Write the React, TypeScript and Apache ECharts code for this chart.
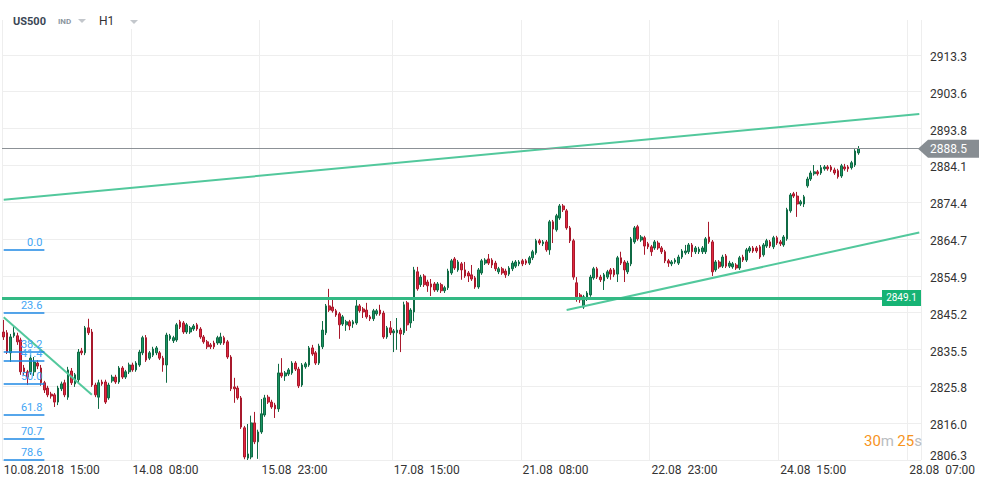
import React, { useEffect, useRef } from "react";
import * as echarts from "echarts";

// ---------- header texts ----------
const symbolName = "US500";
const instrumentType = "IND";
const timeframe = "H1";
const countdownMin = "30";
const countdownSec = "25";

// ---------- hourly candles: [open, close, low, high] ----------
const candles: number[][] = [
  [2840.1, 2838.8, 2838.0, 2843.3], [2839.9, 2834.8, 2834.3, 2840.6], [2834.6, 2838.8, 2832.2, 2839.6], [2839.1, 2839.9, 2838.6, 2841.4],
  [2839.1, 2837.5, 2836.7, 2839.9], [2838.0, 2829.6, 2828.8, 2838.6], [2830.6, 2829.6, 2828.8, 2831.4], [2829.6, 2828.2, 2826.1, 2830.1],
  [2829.6, 2833.2, 2828.8, 2834.0], [2829.6, 2832.2, 2828.5, 2833.5], [2831.9, 2831.1, 2830.3, 2832.7], [2830.6, 2826.7, 2825.9, 2831.4],
  [2826.7, 2824.8, 2824.0, 2827.2], [2825.3, 2823.5, 2822.9, 2825.9], [2823.7, 2823.2, 2822.5, 2824.3], [2823.5, 2821.6, 2820.3, 2824.0],
  [2821.6, 2825.3, 2820.8, 2825.9], [2825.1, 2826.4, 2824.5, 2827.0], [2826.7, 2823.5, 2822.9, 2827.5], [2822.9, 2830.1, 2822.2, 2830.9],
  [2829.8, 2826.7, 2826.1, 2830.6], [2826.4, 2828.8, 2825.6, 2829.3], [2827.5, 2834.8, 2826.9, 2835.6], [2835.1, 2834.6, 2834.0, 2835.9],
  [2834.6, 2841.2, 2834.0, 2841.7], [2841.2, 2839.9, 2839.3, 2843.6], [2840.1, 2826.1, 2825.6, 2840.9], [2826.1, 2823.5, 2822.9, 2826.7],
  [2822.9, 2826.7, 2819.8, 2827.5], [2826.9, 2826.4, 2825.9, 2827.5], [2826.9, 2821.6, 2821.1, 2827.5], [2822.7, 2826.1, 2822.2, 2826.7],
  [2827.2, 2828.2, 2826.7, 2828.8], [2828.2, 2826.9, 2826.4, 2828.8], [2826.9, 2830.6, 2826.4, 2831.1], [2830.6, 2828.2, 2827.7, 2831.1],
  [2828.2, 2829.6, 2827.7, 2830.1], [2829.6, 2831.4, 2829.0, 2832.0], [2831.4, 2830.1, 2829.6, 2832.0], [2830.1, 2831.9, 2829.6, 2832.4],
  [2831.4, 2834.8, 2830.9, 2835.4], [2834.6, 2838.6, 2834.0, 2839.1], [2838.6, 2832.7, 2832.2, 2839.3], [2833.2, 2834.6, 2832.7, 2835.1],
  [2834.0, 2835.6, 2833.5, 2836.2], [2834.6, 2835.9, 2834.0, 2836.4], [2834.6, 2833.2, 2832.7, 2835.1], [2833.2, 2831.4, 2829.6, 2833.8],
  [2831.4, 2839.3, 2826.7, 2839.9], [2838.3, 2839.1, 2837.8, 2839.6], [2837.8, 2838.6, 2837.2, 2839.1], [2838.0, 2842.0, 2837.5, 2842.5],
  [2842.8, 2841.4, 2840.9, 2843.3], [2842.5, 2840.1, 2839.6, 2843.0], [2840.1, 2842.0, 2839.6, 2842.5], [2840.1, 2841.2, 2839.6, 2841.7],
  [2840.9, 2841.7, 2840.4, 2842.2], [2842.0, 2840.9, 2840.4, 2842.5], [2840.9, 2838.8, 2838.3, 2841.4], [2838.8, 2837.5, 2837.0, 2839.3],
  [2837.5, 2836.2, 2835.6, 2838.0], [2836.7, 2836.2, 2835.6, 2837.2], [2837.2, 2836.2, 2835.6, 2837.8], [2837.2, 2838.6, 2836.7, 2839.1],
  [2837.2, 2838.8, 2836.7, 2839.9], [2838.6, 2837.2, 2836.7, 2839.1], [2837.5, 2833.5, 2833.0, 2838.0], [2833.5, 2825.1, 2824.5, 2834.0],
  [2825.6, 2825.1, 2821.4, 2828.0], [2825.3, 2822.7, 2822.2, 2825.9], [2822.7, 2815.0, 2814.5, 2823.2], [2814.8, 2807.1, 2806.5, 2815.3],
  [2806.8, 2807.9, 2806.3, 2815.8], [2807.1, 2816.1, 2806.5, 2818.0], [2816.1, 2811.1, 2810.5, 2819.0], [2811.1, 2813.7, 2806.6, 2814.3],
  [2813.7, 2818.5, 2813.2, 2822.4], [2818.2, 2822.7, 2817.7, 2823.5], [2822.9, 2821.6, 2821.1, 2823.5], [2821.6, 2820.3, 2819.8, 2822.2],
  [2820.8, 2819.8, 2817.4, 2821.4], [2819.8, 2829.3, 2819.0, 2831.7], [2829.3, 2828.5, 2828.0, 2833.2], [2828.5, 2829.3, 2827.2, 2829.8],
  [2829.0, 2830.1, 2828.5, 2830.6], [2829.3, 2831.9, 2828.8, 2832.4], [2831.9, 2830.3, 2829.8, 2832.4], [2830.3, 2825.9, 2825.3, 2830.9],
  [2826.1, 2831.4, 2825.6, 2831.9], [2830.9, 2831.7, 2830.4, 2832.2], [2831.4, 2835.9, 2830.9, 2836.4], [2835.9, 2834.3, 2833.8, 2836.7],
  [2834.6, 2831.9, 2831.4, 2835.1], [2831.9, 2836.4, 2831.4, 2837.0], [2836.2, 2840.6, 2835.6, 2843.0], [2839.9, 2847.0, 2839.3, 2847.5],
  [2847.0, 2845.9, 2845.4, 2851.5], [2846.7, 2845.7, 2845.2, 2849.1], [2845.7, 2844.6, 2844.1, 2846.2], [2844.9, 2842.0, 2838.3, 2845.4],
  [2842.2, 2844.1, 2841.7, 2844.6], [2842.0, 2842.8, 2840.4, 2843.3], [2842.8, 2841.7, 2840.6, 2843.3], [2842.2, 2842.8, 2841.2, 2843.3],
  [2842.5, 2847.0, 2842.0, 2848.6], [2847.0, 2845.7, 2845.2, 2847.5], [2846.2, 2845.4, 2843.8, 2846.7], [2845.9, 2844.1, 2843.6, 2847.8],
  [2844.1, 2843.6, 2843.0, 2844.6], [2843.6, 2845.7, 2843.0, 2846.2], [2844.9, 2845.7, 2844.4, 2846.2], [2845.9, 2844.9, 2844.4, 2847.3],
  [2845.1, 2838.8, 2838.3, 2845.7], [2838.8, 2841.2, 2838.3, 2841.7], [2841.2, 2839.9, 2839.3, 2843.0], [2839.9, 2840.4, 2834.8, 2840.9],
  [2839.9, 2840.6, 2835.4, 2843.8], [2840.6, 2839.6, 2834.8, 2841.2], [2839.9, 2847.3, 2839.3, 2848.1], [2847.8, 2842.0, 2840.4, 2848.3],
  [2842.5, 2845.9, 2841.2, 2846.4], [2845.4, 2856.5, 2843.0, 2857.3], [2856.0, 2851.5, 2851.0, 2857.3], [2852.6, 2854.6, 2852.0, 2855.2],
  [2854.9, 2852.6, 2852.0, 2855.4], [2853.3, 2852.3, 2850.7, 2853.9], [2852.8, 2852.0, 2849.6, 2854.1], [2852.8, 2851.2, 2850.7, 2853.3],
  [2851.2, 2852.8, 2850.7, 2853.3], [2852.6, 2851.0, 2850.4, 2853.1], [2851.0, 2851.8, 2850.4, 2852.3], [2851.8, 2856.2, 2851.2, 2856.8],
  [2855.7, 2858.9, 2855.2, 2859.4], [2859.4, 2857.0, 2856.5, 2859.9], [2856.5, 2858.6, 2856.0, 2859.1], [2858.1, 2856.5, 2853.9, 2858.6],
  [2856.5, 2854.9, 2854.4, 2858.6], [2855.7, 2854.9, 2853.3, 2856.2], [2855.2, 2854.1, 2853.6, 2857.8], [2854.4, 2852.0, 2851.5, 2854.9],
  [2852.0, 2856.5, 2851.5, 2857.0], [2855.7, 2858.9, 2855.2, 2859.4], [2858.3, 2859.1, 2857.8, 2859.6], [2859.4, 2858.3, 2857.8, 2860.7],
  [2859.1, 2857.8, 2857.0, 2859.6], [2858.3, 2856.8, 2856.2, 2858.9], [2856.0, 2856.8, 2855.4, 2857.3], [2856.8, 2855.7, 2855.2, 2857.3],
  [2856.2, 2855.2, 2854.4, 2856.8], [2855.4, 2857.0, 2854.9, 2857.5], [2856.8, 2858.3, 2856.2, 2858.9], [2857.5, 2858.6, 2857.0, 2859.1],
  [2858.1, 2858.6, 2857.5, 2859.1], [2858.9, 2858.1, 2857.5, 2859.4], [2858.9, 2858.3, 2857.8, 2859.4], [2858.3, 2859.7, 2857.8, 2860.2],
  [2859.7, 2861.3, 2859.1, 2861.8], [2861.0, 2864.2, 2860.5, 2864.7], [2864.2, 2863.6, 2863.1, 2864.7], [2863.4, 2863.9, 2862.8, 2864.4],
  [2863.9, 2861.8, 2861.3, 2864.4], [2861.8, 2869.2, 2860.5, 2869.7], [2869.2, 2867.3, 2863.6, 2869.7], [2867.1, 2870.8, 2866.6, 2871.3],
  [2870.2, 2873.4, 2869.7, 2873.9], [2873.4, 2872.4, 2871.8, 2873.9], [2872.1, 2867.6, 2867.1, 2872.6], [2867.6, 2864.2, 2863.6, 2868.1],
  [2864.2, 2854.6, 2853.9, 2864.7], [2853.1, 2849.4, 2848.1, 2854.6], [2849.9, 2848.6, 2847.8, 2850.4], [2846.7, 2849.4, 2846.2, 2849.9],
  [2848.8, 2850.4, 2848.3, 2850.9], [2849.9, 2854.6, 2849.4, 2855.2], [2854.4, 2856.8, 2853.9, 2857.3], [2856.8, 2854.6, 2854.1, 2857.3],
  [2854.6, 2853.9, 2853.3, 2855.2], [2853.6, 2855.2, 2851.2, 2855.7], [2854.6, 2856.0, 2854.1, 2856.5], [2856.5, 2855.4, 2853.9, 2857.0],
  [2856.5, 2855.2, 2854.6, 2857.0], [2855.4, 2859.7, 2853.3, 2860.2], [2859.7, 2858.3, 2857.8, 2861.3], [2858.6, 2856.5, 2853.3, 2859.1],
  [2856.0, 2858.3, 2855.4, 2858.9], [2858.1, 2864.7, 2857.5, 2865.2], [2863.9, 2867.6, 2863.4, 2868.1], [2867.9, 2864.7, 2864.2, 2868.4],
  [2864.4, 2865.2, 2863.9, 2865.7], [2865.0, 2862.8, 2860.5, 2865.5], [2863.4, 2862.6, 2862.0, 2863.9], [2862.6, 2861.3, 2860.2, 2863.1],
  [2862.3, 2863.9, 2861.8, 2864.4], [2863.6, 2862.3, 2861.8, 2864.2], [2862.3, 2861.3, 2860.7, 2862.8], [2861.3, 2858.9, 2858.3, 2861.8],
  [2858.9, 2858.3, 2857.3, 2859.4], [2858.1, 2858.6, 2857.5, 2859.1], [2858.6, 2859.1, 2858.1, 2859.6], [2858.3, 2859.9, 2857.8, 2860.5],
  [2859.9, 2861.5, 2859.4, 2862.0], [2861.0, 2861.5, 2860.5, 2863.1], [2861.3, 2863.1, 2860.7, 2863.6], [2863.1, 2861.3, 2859.9, 2863.6],
  [2861.3, 2862.3, 2860.7, 2862.8], [2861.3, 2862.0, 2860.7, 2862.6], [2861.3, 2862.3, 2860.7, 2862.8], [2861.3, 2864.7, 2860.7, 2865.2],
  [2865.2, 2863.9, 2863.4, 2869.2], [2863.9, 2856.0, 2854.9, 2864.4], [2856.5, 2858.6, 2856.0, 2859.1], [2858.6, 2857.3, 2856.8, 2859.1],
  [2857.5, 2859.9, 2857.0, 2860.5], [2860.2, 2857.5, 2857.0, 2860.7], [2857.5, 2858.3, 2857.0, 2858.9], [2857.3, 2858.1, 2856.8, 2858.6],
  [2857.8, 2857.0, 2856.5, 2858.3], [2857.0, 2859.7, 2856.5, 2860.2], [2859.9, 2859.1, 2858.6, 2860.5], [2859.1, 2861.8, 2858.6, 2862.3],
  [2861.5, 2862.3, 2861.0, 2862.8], [2862.3, 2861.5, 2861.0, 2862.8], [2862.3, 2861.5, 2861.0, 2862.8], [2862.6, 2859.9, 2859.4, 2863.1],
  [2860.5, 2863.1, 2860.0, 2863.6], [2862.8, 2864.2, 2862.3, 2864.7], [2863.9, 2862.8, 2862.3, 2864.4], [2862.6, 2865.0, 2862.0, 2865.5],
  [2865.0, 2863.6, 2863.1, 2865.5], [2863.9, 2863.4, 2862.8, 2864.4], [2863.1, 2865.2, 2862.6, 2865.7], [2864.7, 2872.4, 2864.2, 2872.9],
  [2872.1, 2876.3, 2871.6, 2876.8], [2876.6, 2876.0, 2875.5, 2877.1], [2876.0, 2873.9, 2870.5, 2877.1], [2873.9, 2874.5, 2873.4, 2875.0],
  [2873.9, 2875.8, 2873.1, 2876.3], [2878.7, 2880.5, 2878.2, 2881.1], [2880.5, 2882.1, 2880.0, 2882.7], [2881.9, 2882.4, 2881.4, 2884.2],
  [2882.4, 2881.9, 2881.4, 2882.9], [2882.1, 2883.5, 2881.6, 2884.2], [2883.2, 2883.7, 2882.7, 2884.2], [2883.7, 2883.2, 2882.7, 2884.2],
  [2883.7, 2882.9, 2882.4, 2884.2], [2882.9, 2882.1, 2881.6, 2883.5], [2882.7, 2881.1, 2880.6, 2883.2], [2881.3, 2884.0, 2880.8, 2884.5],
  [2883.7, 2883.2, 2882.7, 2884.5], [2883.7, 2883.2, 2882.4, 2884.2], [2883.5, 2884.8, 2883.0, 2885.3], [2884.2, 2887.9, 2883.7, 2888.4],
  [2887.4, 2888.5, 2886.9, 2889.2],
];

// ---------- x axis ----------
const totalSlots = 271; // hourly slots incl. empty future space
const xTickIndex = [0, 38, 76, 115, 153, 191, 229, 267];
const xTickLabels = [
  "10.08.2018 \u00a015:00",
  "14.08 \u00a008:00",
  "15.08 \u00a023:00",
  "17.08 \u00a015:00",
  "21.08 \u00a008:00",
  "22.08 \u00a023:00",
  "24.08 \u00a015:00",
  "28.08 \u00a007:00",
];

// ---------- y axis ----------
const yMin = 2806.3;
const yStep = 9.727272727;
const yMax = 2922.5;

// ---------- drawings ----------
const upperTrend = [[0, 2875.0], [270, 2897.7]];
const lowerTrend = [[166, 2845.9], [270, 2866.4]];
const shortTrend = [[0, 2844.0], [26, 2823.5]];
const supportLevel = 2849.1;
const lastPrice = 2888.5;
const fibStartValue = 2861.8;
const fibEndValue = 2791.2;
const fibLevels = [0, 23.6, 38.2, 41.4, 50, 61.8, 70.7, 78.6];
const fibLabels = ["0.0", "23.6", "38.2", "41.4", "50.0", "61.8", "70.7", "78.6"];
const fibFromIndex = 0;
const fibToIndex = 12;

const FONT = "Roboto, 'Noto Sans', Arial, sans-serif";

export default function App() {
  const ref = useRef<HTMLDivElement>(null);

  useEffect(() => {
    if (!ref.current) return;
    const chart = echarts.init(ref.current, undefined, { renderer: "svg" });
    const categories = Array.from({ length: totalSlots }, (_, i) => String(i));
    const isTick = (i: number) => xTickIndex.indexOf(i) >= 0;

    const trendStyle = { color: "#52c89c", width: 2 };

    const fibMarks = fibLevels.map((lvl, k) => {
      const v = Math.max(yMin, fibStartValue - (lvl / 100) * (fibStartValue - fibEndValue));
      return [
        {
          coord: [fibFromIndex, v],
          lineStyle: { color: "#1e88e5", width: 1.5, type: "solid" },
          label: {
            show: true,
            position: "insideEndTop",
            formatter: fibLabels[k],
            color: "#42a5f5",
            fontSize: 11,
            fontFamily: FONT,
            distance: 2,
          },
        },
        { coord: [fibToIndex, v] },
      ];
    });

    const option: any = {
      animation: false,
      textStyle: { fontFamily: FONT },
      grid: { left: 2, right: 69, top: 20, bottom: 25 },
      xAxis: {
        type: "category",
        data: categories,
        boundaryGap: true,
        axisLine: { show: false },
        axisTick: { show: false },
        axisLabel: {
          interval: (i: number) => isTick(i),
          formatter: (_v: string, i: number) => {
            const k = xTickIndex.indexOf(i);
            return k >= 0 ? xTickLabels[k] : "";
          },
          align: "left",
          color: "#333",
          fontSize: 12,
          margin: 4,
          fontFamily: FONT,
        },
        splitLine: {
          show: true,
          interval: (i: number) => isTick(i),
          lineStyle: { color: "#eeeeee", width: 1 },
        },
      },
      yAxis: {
        type: "value",
        position: "right",
        min: yMin,
        max: yMax,
        interval: yStep,
        axisLine: { show: false },
        axisTick: { show: false },
        axisLabel: {
          showMaxLabel: false,
          formatter: (v: number) =>
            Math.abs(v - yMin) < 0.01 ? `{lo|${v.toFixed(1)}}` : `{n|${v.toFixed(1)}}`,
          color: "#333",
          fontSize: 12,
          margin: 9,
          fontFamily: FONT,
          rich: {
            n: { color: "#333", fontSize: 12, fontFamily: FONT, padding: [4, 0, 0, 0] },
            lo: { color: "#333", fontSize: 12, fontFamily: FONT, padding: [0, 0, 8, 0] },
          },
        },
        splitLine: { show: true, showMaxLine: false, lineStyle: { color: "#eeeeee", width: 1 } },
      },
      series: [
        {
          type: "candlestick",
          data: candles,
          barWidth: 2.2,
          itemStyle: {
            color: "#1a9463",
            color0: "#e0283f",
            borderColor: "#0f6a44",
            borderColor0: "#a8192c",
            borderWidth: 1,
          },
          markLine: {
            symbol: "none",
            silent: true,
            animation: false,
            label: { show: false },
            data: [
              { yAxis: lastPrice, lineStyle: { color: "#8c9196", width: 1, type: "solid" } },
              { yAxis: supportLevel, lineStyle: { color: "#33b984", width: 3, type: "solid" } },
              ...fibMarks,
            ],
          },
        },
        { type: "line", data: upperTrend, symbol: "none", silent: true, lineStyle: trendStyle, z: 4 },
        { type: "line", data: lowerTrend, symbol: "none", silent: true, lineStyle: trendStyle, z: 4 },
        { type: "line", data: shortTrend, symbol: "none", silent: true, lineStyle: trendStyle, z: 4 },
      ],
    };

    chart.setOption(option);

    const yPrice = chart.convertToPixel({ yAxisIndex: 0 }, lastPrice) as number;
    const ySupport = chart.convertToPixel({ yAxisIndex: 0 }, supportLevel) as number;
    const rightEdge = 990 - 69;

    chart.setOption({
      graphic: [
        { type: "rect", shape: { x: 8, y: 0, width: 142, height: 29 }, style: { fill: "#fff" }, z: 50 },
        {
          type: "text", x: 13, y: 21, z: 51,
          style: { text: symbolName, fill: "#3b4755", font: `bold 11px ${FONT}`, verticalAlign: "middle" },
        },
        {
          type: "text", x: 58, y: 21, z: 51,
          style: { text: instrumentType, fill: "#8c96a0", font: `bold 8px ${FONT}`, verticalAlign: "middle" },
        },
        { type: "polygon", z: 51, shape: { points: [[78, 19], [86, 19], [82, 23]] }, style: { fill: "#c3c7cc" } },
        {
          type: "text", x: 99, y: 21, z: 51,
          style: { text: timeframe, fill: "#333", font: `12px ${FONT}`, verticalAlign: "middle" },
        },
        { type: "polygon", z: 51, shape: { points: [[130, 20], [138, 20], [134, 24]] }, style: { fill: "#c3c7cc" } },
        // last price tag
        {
          type: "polygon", z: 60,
          shape: {
            points: [
              [rightEdge - 3, yPrice],
              [rightEdge + 7, yPrice - 9],
              [979, yPrice - 9],
              [979, yPrice + 9],
              [rightEdge + 7, yPrice + 9],
            ],
          },
          style: { fill: "#878d92" },
        },
        {
          type: "text", x: 930, y: yPrice, z: 61,
          style: { text: lastPrice.toFixed(1), fill: "#fff", font: `12px ${FONT}`, verticalAlign: "middle" },
        },
        // support level tag
        {
          type: "rect", z: 60,
          shape: { x: rightEdge - 39, y: ySupport - 8, width: 39, height: 16 },
          style: { fill: "#16b374" },
        },
        {
          type: "text", x: rightEdge - 19.5, y: ySupport, z: 61,
          style: {
            text: supportLevel.toFixed(1), fill: "#fff", font: `10px ${FONT}`,
            align: "center", verticalAlign: "middle",
          },
        },
        // countdown
        {
          type: "text", x: 864, y: 441, z: 61,
          style: {
            text: `{a|${countdownMin}}{b|m} {a|${countdownSec}}{b|s}`,
            verticalAlign: "middle",
            rich: {
              a: { fill: "#f7941d", font: `15px ${FONT}` },
              b: { fill: "#b9bdc1", font: `15px ${FONT}` },
            },
          },
        },
      ],
    });

    return () => chart.dispose();
  }, []);

  return (
    <div
      ref={ref}
      style={{ position: "fixed", left: 0, top: 0, width: 990, height: 485, background: "#fff" }}
    />
  );
}
